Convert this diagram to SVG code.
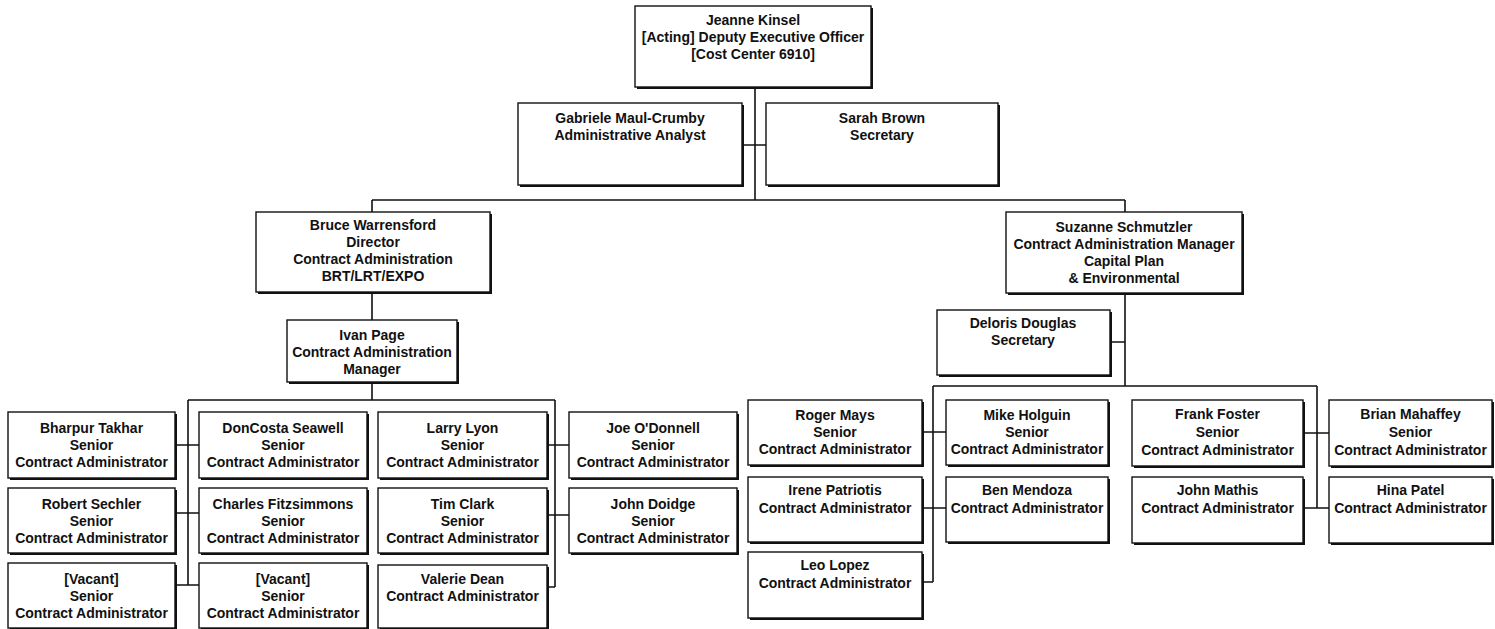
<svg xmlns="http://www.w3.org/2000/svg" width="1495" height="629" viewBox="0 0 1495 629">
<style>
.bg{fill:#ffffff}
.sh{fill:#111111}
.box{fill:#ffffff;stroke:#111111;stroke-width:1.4}
.t{font-family:"Liberation Sans",Arial,sans-serif;font-weight:bold;font-size:14px;fill:#111111;text-anchor:middle}
.c{stroke:#111111;stroke-width:1.6;fill:none}
</style>
<rect class="bg" x="0" y="0" width="1495" height="629"/>
<g id="connectors">
<path class="c" d="M755 87V200M742 145H766M372 200H1125M372 200V212M372 292V320M372 382V400M188 400H555M188 400V585M175 445H199M175 513H199M175 585H199M555 400V587M547 445H569M547 515H569M547 587H555"/>
<path class="c" d="M1125 200V212M1125 293V386M1110 342H1125M933 386H1317M933 386V582M922 432H946M922 508H946M922 582H933M1317 386V508M1303 433H1329M1303 508H1329"/>
</g>
<g id="n-jeanne"><rect class="sh" x="637" y="8" width="236" height="81"/><rect class="box" x="635" y="6" width="236" height="81"/>
<text class="t" x="753" y="25">Jeanne Kinsel</text><text class="t" x="753" y="42">[Acting] Deputy Executive Officer</text><text class="t" x="753" y="59">[Cost Center 6910]</text></g>
<g id="n-gabriele"><rect class="sh" x="520" y="105" width="224" height="82"/><rect class="box" x="518" y="103" width="224" height="82"/>
<text class="t" x="630" y="123">Gabriele Maul-Crumby</text><text class="t" x="630" y="140">Administrative Analyst</text></g>
<g id="n-sarah"><rect class="sh" x="768" y="105" width="232" height="82"/><rect class="box" x="766" y="103" width="232" height="82"/>
<text class="t" x="882" y="123">Sarah Brown</text><text class="t" x="882" y="140">Secretary</text></g>
<g id="n-bruce"><rect class="sh" x="258" y="214" width="234" height="80"/><rect class="box" x="256" y="212" width="234" height="80"/>
<text class="t" x="373" y="230">Bruce Warrensford</text><text class="t" x="373" y="247">Director</text><text class="t" x="373" y="264">Contract Administration</text><text class="t" x="373" y="281">BRT/LRT/EXPO</text></g>
<g id="n-ivan"><rect class="sh" x="289" y="322" width="170" height="62"/><rect class="box" x="287" y="320" width="170" height="62"/>
<text class="t" x="372" y="340">Ivan Page</text><text class="t" x="372" y="357">Contract Administration</text><text class="t" x="372" y="374">Manager</text></g>
<g id="n-suzanne"><rect class="sh" x="1008" y="214" width="236" height="81"/><rect class="box" x="1006" y="212" width="236" height="81"/>
<text class="t" x="1124" y="232">Suzanne Schmutzler</text><text class="t" x="1124" y="249">Contract Administration Manager</text><text class="t" x="1124" y="266">Capital Plan</text><text class="t" x="1124" y="283">&amp; Environmental</text></g>
<g id="n-deloris"><rect class="sh" x="939" y="312" width="173" height="65"/><rect class="box" x="937" y="310" width="173" height="65"/>
<text class="t" x="1023" y="328">Deloris Douglas</text><text class="t" x="1023" y="345">Secretary</text></g>
<g id="n-bharpur"><rect class="sh" x="10" y="414" width="167" height="66"/><rect class="box" x="8" y="412" width="167" height="66"/>
<text class="t" x="91.5" y="433">Bharpur Takhar</text><text class="t" x="91.5" y="450">Senior</text><text class="t" x="91.5" y="467">Contract Administrator</text></g>
<g id="n-doncosta"><rect class="sh" x="201" y="414" width="168" height="66"/><rect class="box" x="199" y="412" width="168" height="66"/>
<text class="t" x="283" y="433">DonCosta Seawell</text><text class="t" x="283" y="450">Senior</text><text class="t" x="283" y="467">Contract Administrator</text></g>
<g id="n-robert"><rect class="sh" x="10" y="490" width="167" height="65"/><rect class="box" x="8" y="488" width="167" height="65"/>
<text class="t" x="91.5" y="509">Robert Sechler</text><text class="t" x="91.5" y="526">Senior</text><text class="t" x="91.5" y="543">Contract Administrator</text></g>
<g id="n-charles"><rect class="sh" x="201" y="490" width="168" height="65"/><rect class="box" x="199" y="488" width="168" height="65"/>
<text class="t" x="283" y="509">Charles Fitzsimmons</text><text class="t" x="283" y="526">Senior</text><text class="t" x="283" y="543">Contract Administrator</text></g>
<g id="n-vacant1"><rect class="sh" x="10" y="565" width="167" height="65"/><rect class="box" x="8" y="563" width="167" height="65"/>
<text class="t" x="91.5" y="584">[Vacant]</text><text class="t" x="91.5" y="601">Senior</text><text class="t" x="91.5" y="618">Contract Administrator</text></g>
<g id="n-vacant2"><rect class="sh" x="201" y="565" width="168" height="65"/><rect class="box" x="199" y="563" width="168" height="65"/>
<text class="t" x="283" y="584">[Vacant]</text><text class="t" x="283" y="601">Senior</text><text class="t" x="283" y="618">Contract Administrator</text></g>
<g id="n-larry"><rect class="sh" x="380" y="414" width="169" height="66"/><rect class="box" x="378" y="412" width="169" height="66"/>
<text class="t" x="462.5" y="433">Larry Lyon</text><text class="t" x="462.5" y="450">Senior</text><text class="t" x="462.5" y="467">Contract Administrator</text></g>
<g id="n-joe"><rect class="sh" x="571" y="414" width="168" height="66"/><rect class="box" x="569" y="412" width="168" height="66"/>
<text class="t" x="653" y="433">Joe O'Donnell</text><text class="t" x="653" y="450">Senior</text><text class="t" x="653" y="467">Contract Administrator</text></g>
<g id="n-tim"><rect class="sh" x="380" y="490" width="169" height="65"/><rect class="box" x="378" y="488" width="169" height="65"/>
<text class="t" x="462.5" y="509">Tim Clark</text><text class="t" x="462.5" y="526">Senior</text><text class="t" x="462.5" y="543">Contract Administrator</text></g>
<g id="n-john-doidge"><rect class="sh" x="571" y="490" width="168" height="65"/><rect class="box" x="569" y="488" width="168" height="65"/>
<text class="t" x="653" y="509">John Doidge</text><text class="t" x="653" y="526">Senior</text><text class="t" x="653" y="543">Contract Administrator</text></g>
<g id="n-valerie"><rect class="sh" x="380" y="567" width="169" height="63"/><rect class="box" x="378" y="565" width="169" height="63"/>
<text class="t" x="462.5" y="584">Valerie Dean</text><text class="t" x="462.5" y="601">Contract Administrator</text></g>
<g id="n-roger"><rect class="sh" x="750" y="402" width="174" height="65"/><rect class="box" x="748" y="400" width="174" height="65"/>
<text class="t" x="835" y="420">Roger Mays</text><text class="t" x="835" y="437">Senior</text><text class="t" x="835" y="454">Contract Administrator</text></g>
<g id="n-mike"><rect class="sh" x="948" y="402" width="162" height="65"/><rect class="box" x="946" y="400" width="162" height="65"/>
<text class="t" x="1027" y="420">Mike Holguin</text><text class="t" x="1027" y="437">Senior</text><text class="t" x="1027" y="454">Contract Administrator</text></g>
<g id="n-irene"><rect class="sh" x="750" y="479" width="174" height="65"/><rect class="box" x="748" y="477" width="174" height="65"/>
<text class="t" x="835" y="495">Irene Patriotis</text><text class="t" x="835" y="513">Contract Administrator</text></g>
<g id="n-ben"><rect class="sh" x="948" y="479" width="162" height="65"/><rect class="box" x="946" y="477" width="162" height="65"/>
<text class="t" x="1027" y="495">Ben Mendoza</text><text class="t" x="1027" y="513">Contract Administrator</text></g>
<g id="n-leo"><rect class="sh" x="750" y="554" width="174" height="66"/><rect class="box" x="748" y="552" width="174" height="66"/>
<text class="t" x="835" y="570">Leo Lopez</text><text class="t" x="835" y="588">Contract Administrator</text></g>
<g id="n-frank"><rect class="sh" x="1134" y="402" width="171" height="66"/><rect class="box" x="1132" y="400" width="171" height="66"/>
<text class="t" x="1217.5" y="419">Frank Foster</text><text class="t" x="1217.5" y="437">Senior</text><text class="t" x="1217.5" y="455">Contract Administrator</text></g>
<g id="n-brian"><rect class="sh" x="1331" y="402" width="163" height="66"/><rect class="box" x="1329" y="400" width="163" height="66"/>
<text class="t" x="1410.5" y="419">Brian Mahaffey</text><text class="t" x="1410.5" y="437">Senior</text><text class="t" x="1410.5" y="455">Contract Administrator</text></g>
<g id="n-john-mathis"><rect class="sh" x="1134" y="479" width="171" height="66"/><rect class="box" x="1132" y="477" width="171" height="66"/>
<text class="t" x="1217.5" y="495">John Mathis</text><text class="t" x="1217.5" y="513">Contract Administrator</text></g>
<g id="n-hina"><rect class="sh" x="1331" y="479" width="163" height="66"/><rect class="box" x="1329" y="477" width="163" height="66"/>
<text class="t" x="1410.5" y="495">Hina Patel</text><text class="t" x="1410.5" y="513">Contract Administrator</text></g>
</svg>
